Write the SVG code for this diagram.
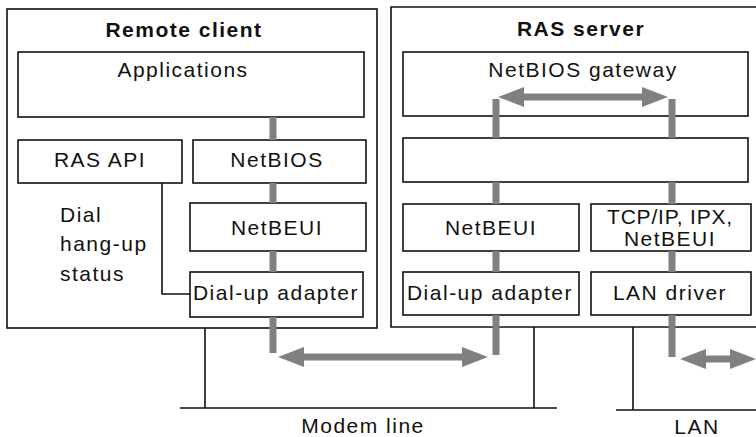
<svg xmlns="http://www.w3.org/2000/svg" width="756" height="437" viewBox="0 0 756 437">
<style>
  text { font-family: "Liberation Sans", Arial, sans-serif; font-size: 21px; letter-spacing: 1.5px; fill: #111; }
  .c { text-anchor: middle; }
  .title { font-weight: bold; }
  .box { fill: #fff; stroke: #111; stroke-width: 1.6; }
  .outer { fill: none; stroke: #111; stroke-width: 1.6; }
  .wire { fill: none; stroke: #111; stroke-width: 1.6; }
  .bus { fill: none; stroke: #808080; stroke-width: 7; }
  .arr { fill: none; stroke: #808080; stroke-width: 7; marker-start: url(#head); marker-end: url(#head); }
</style>
<defs>
  <marker id="head" markerUnits="userSpaceOnUse" markerWidth="26" markerHeight="20" refX="14" refY="10" orient="auto-start-reverse" viewBox="0 0 26 20">
    <path d="M0,0 L26,10 L0,20 Z" fill="#808080"/>
  </marker>
</defs>
<rect width="756" height="437" fill="#fff"/>

<g id="remote-client">
  <rect class="outer" x="7" y="9" width="370" height="319"/>
  <text class="title c" x="184" y="37">Remote client</text>
</g>
<g id="ras-server">
  <path class="outer" d="M757,7 H391 V327 H757"/>
  <text class="title c" x="581" y="36">RAS server</text>
</g>

<g id="applications">
  <rect class="box" x="18" y="52" width="346" height="65"/>
  <text class="c" x="183" y="77">Applications</text>
</g>
<g id="ras-api">
  <rect class="box" x="18" y="140" width="164" height="43"/>
  <text class="c" x="100" y="167">RAS API</text>
</g>
<g id="client-netbios">
  <rect class="box" x="193" y="140" width="173" height="43"/>
  <text class="c" x="277" y="167">NetBIOS</text>
</g>
<g id="client-netbeui">
  <rect class="box" x="190" y="203" width="176" height="48"/>
  <text class="c" x="277" y="235">NetBEUI</text>
</g>
<g id="client-dialup">
  <rect class="box" x="190" y="272" width="173" height="45"/>
  <text class="c" x="276" y="300">Dial-up adapter</text>
</g>
<g id="dial-status">
  <text x="60" y="222">Dial</text>
  <text x="60" y="251">hang-up</text>
  <text x="60" y="281">status</text>
</g>

<g id="netbios-gateway">
  <rect class="box" x="403" y="52" width="345" height="64"/>
  <text class="c" x="583" y="77">NetBIOS gateway</text>
</g>
<g id="server-middle">
  <rect class="box" x="403" y="138" width="345" height="44"/>
</g>
<g id="server-netbeui">
  <rect class="box" x="403" y="204" width="176" height="47"/>
  <text class="c" x="491" y="235">NetBEUI</text>
</g>
<g id="server-protocols">
  <rect class="box" x="591" y="204" width="160" height="47"/>
  <text class="c" x="670" y="224" style="letter-spacing:0.8px">TCP/IP, IPX,</text>
  <text class="c" x="670" y="246">NetBEUI</text>
</g>
<g id="server-dialup">
  <rect class="box" x="403" y="272" width="176" height="43"/>
  <text class="c" x="490" y="300">Dial-up adapter</text>
</g>
<g id="lan-driver">
  <rect class="box" x="591" y="272" width="160" height="43"/>
  <text class="c" x="670" y="300">LAN driver</text>
</g>

<g id="modem-line">
  <text class="c" x="363" y="433">Modem line</text>
</g>
<g id="lan">
  <text class="c" x="697" y="434">LAN</text>
</g>

<g id="connectors">
  <polyline class="wire" points="162,183 162,294 190,294"/>
  <line class="wire" x1="205" y1="328" x2="205" y2="408"/>
  <line class="wire" x1="534" y1="327" x2="534" y2="408"/>
  <line class="wire" x1="180" y1="408" x2="557" y2="408"/>
  <line class="wire" x1="633" y1="327" x2="633" y2="410"/>
  <line class="wire" x1="616" y1="410" x2="756" y2="410"/>

  <path class="bus" d="M273,117 V140 M273,183 V203 M273,251 V272 M273,317 V353"/>
  <path class="bus" d="M496,99 V138 M496,182 V204 M496,251 V272 M496,315 V355"/>
  <path class="bus" d="M672,99 V138 M672,182 V204 M672,251 V272 M672,315 V357"/>

  <line class="arr" x1="510" y1="97" x2="656" y2="97"/>
  <line class="arr" x1="290" y1="357" x2="476" y2="357"/>
  <line class="arr" x1="692" y1="359" x2="744" y2="359"/>
</g>
</svg>
